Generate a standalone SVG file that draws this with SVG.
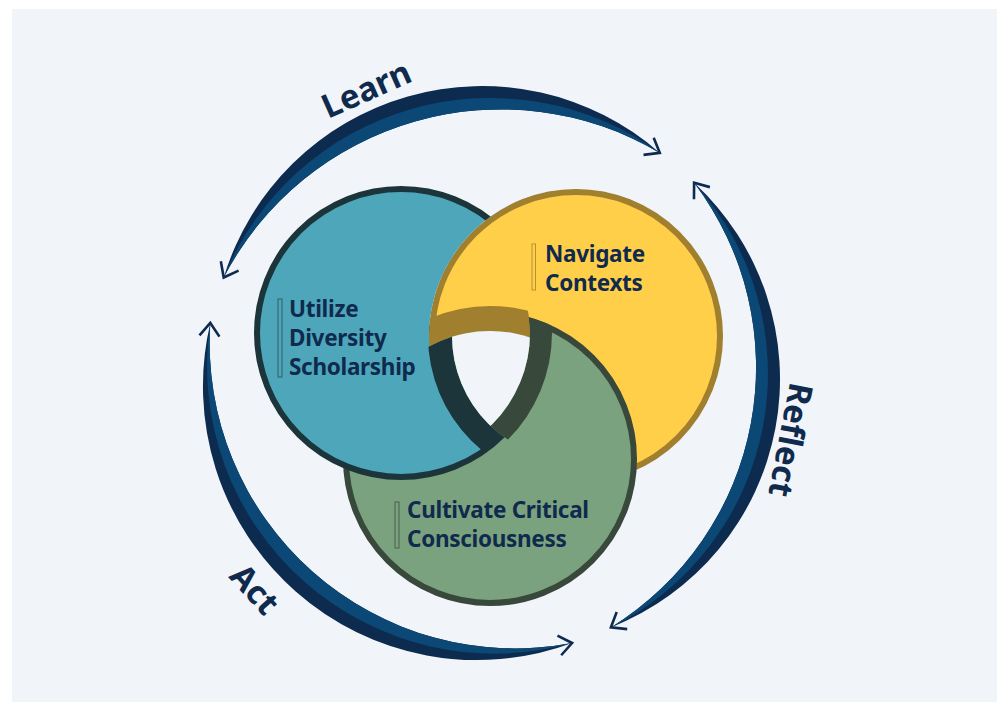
<svg xmlns="http://www.w3.org/2000/svg" width="1003" height="711" viewBox="0 0 1003 711">
<defs>
<style>
.lbl{font-family:"Noto Sans","Open Sans","Liberation Sans",sans-serif;font-weight:700;font-size:22.5px;letter-spacing:-0.3px;fill:#0f2a4d}
.cyc{font-family:"Noto Sans","Open Sans","Liberation Sans",sans-serif;font-weight:700;font-size:33px;fill:#0f2a4d;text-anchor:middle}
.navy{fill:#0d2a4f}
.mid{fill:#0b4876}
.conn{fill:none;stroke:none;marker-start:url(#chev);marker-end:url(#chev)}
.bar{fill:none;stroke-width:1}
</style>
<marker id="chev" markerUnits="userSpaceOnUse" viewBox="-20 -14 24 28" markerWidth="24" markerHeight="28" refX="0" refY="0" orient="auto-start-reverse">
<path d="M-13 -10 L0 0 L-13 10" fill="none" stroke="#0d2a4f" stroke-width="2.6" stroke-linejoin="miter"/>
</marker>
<clipPath id="outY"><path clip-rule="evenodd" d="M0 0H1003V711H0Z M429 336a147 147 0 1 0 294 0a147 147 0 1 0 -294 0Z"/></clipPath>
<clipPath id="cB"><circle cx="401" cy="333" r="147"/></clipPath>
<clipPath id="cY"><circle cx="576" cy="336" r="147"/></clipPath>
<clipPath id="cG"><circle cx="490" cy="459" r="147"/></clipPath>
<clipPath id="cBi"><circle cx="401" cy="333" r="129"/></clipPath>
<clipPath id="cYi"><circle cx="576" cy="336" r="124"/></clipPath>
<clipPath id="cGi"><circle cx="490" cy="459" r="128"/></clipPath>
</defs>
<rect width="1003" height="711" fill="#ffffff"/>
<rect x="12" y="9" width="985" height="693" fill="#f1f5f9"/>

<g id="node-navigate">
<circle cx="576" cy="336" r="144" fill="#ffcf4a" stroke="#a07f2e" stroke-width="6"/>
<rect class="bar" x="532" y="244" width="3.5" height="46" stroke="#b8912f"/>
<text class="lbl"><tspan x="545" y="262">Navigate</tspan><tspan x="545" y="291">Contexts</tspan></text>
</g>

<g id="node-cultivate">
<circle cx="490" cy="459" r="144" fill="#7ba27e" stroke="#38483a" stroke-width="6"/>
<rect class="bar" x="395" y="502" width="4" height="46" stroke="#4d5f4f"/>
<text class="lbl"><tspan x="407" y="518">Cultivate Critical</tspan><tspan x="407" y="547">Consciousness</tspan></text>
</g>

<g id="node-utilize">
<circle cx="401" cy="333" r="144" fill="#4ea6bb" stroke="#1b353a" stroke-width="6" clip-path="url(#outY)"/>
<rect class="bar" x="278" y="299" width="4" height="78" stroke="#2e5c66"/>
<text class="lbl"><tspan x="289" y="317">Utilize</tspan><tspan x="289" y="346">Diversity</tspan><tspan x="289" y="375">Scholarship</tspan></text>
</g>

<g id="weave">
<g clip-path="url(#cB)"><g clip-path="url(#cGi)">
<path fill="#1b353a" fill-rule="evenodd" d="M428 336a148 148 0 1 0 296 0a148 148 0 1 0 -296 0Z M452 336a124 124 0 1 0 248 0a124 124 0 1 0 -248 0Z"/>
</g></g>
<g clip-path="url(#cY)"><g clip-path="url(#cBi)">
<path fill="#a07f2e" fill-rule="evenodd" d="M337 459a153 153 0 1 0 306 0a153 153 0 1 0 -306 0Z M362 459a128 128 0 1 0 256 0a128 128 0 1 0 -256 0Z"/>
</g></g>
<g clip-path="url(#cG)"><g clip-path="url(#cYi)">
<path fill="#38483a" fill-rule="evenodd" d="M250 333a151 151 0 1 0 302 0a151 151 0 1 0 -302 0Z M272 333a129 129 0 1 0 258 0a129 129 0 1 0 -258 0Z"/>
</g></g>
<g clip-path="url(#cBi)"><g clip-path="url(#cYi)">
<circle cx="490" cy="459" r="128" fill="#f1f5f9"/>
</g></g>
</g>

<g id="connectors">
<g id="learn">
<path class="navy" d="M223.7 277.5A270 270 0 0 1 659.8 152.9A312.5 312.5 0 0 0 223.7 277.5Z"/>
<path class="mid" d="M223.7 277.5A288 288 0 0 1 659.8 152.9A312.5 312.5 0 0 0 223.7 277.5Z"/>
<path class="conn" d="M223.7 277.5A312.5 312.5 0 0 1 659.8 152.9"/>
<text class="cyc" transform="translate(366 89) rotate(-24)" y="12">Learn</text>
</g>
<g id="reflect">
<path class="navy" d="M694.1 182.8A267 267 0 0 1 610.9 627.4A305.6 305.6 0 0 0 694.1 182.8Z"/>
<path class="mid" d="M694.1 182.8A283.5 283.5 0 0 1 610.9 627.4A305.6 305.6 0 0 0 694.1 182.8Z"/>
<path class="conn" d="M694.1 182.8A305.6 305.6 0 0 1 610.9 627.4"/>
<text class="cyc" transform="translate(791 440) rotate(101)" y="12">Reflect</text>
</g>
<g id="act">
<path class="navy" d="M572.1 643A274 274 0 0 1 210.3 323A305.3 305.3 0 0 0 572.1 643Z"/>
<path class="mid" d="M572.1 643A287.5 287.5 0 0 1 210.3 323A305.3 305.3 0 0 0 572.1 643Z"/>
<path class="conn" d="M572.1 643A305.3 305.3 0 0 1 210.3 323"/>
<text class="cyc" transform="translate(255 589) rotate(48)" y="12">Act</text>
</g>
</g>
</svg>
